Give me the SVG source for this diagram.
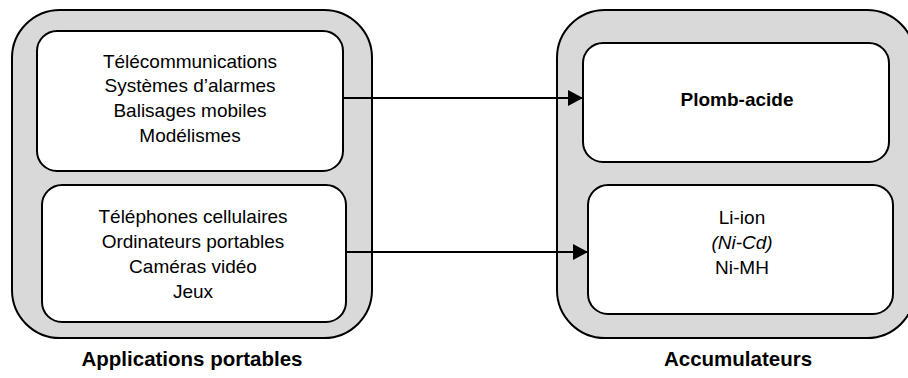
<svg xmlns="http://www.w3.org/2000/svg" width="908" height="378" viewBox="0 0 908 378">
<defs>
<style>
.outer{fill:#d9d9d9;stroke:#000;stroke-width:2}
.inner{fill:#fff;stroke:#000;stroke-width:2}
.t{font-family:"Liberation Sans",Arial,sans-serif;font-size:19px;text-anchor:middle;fill:#000}
.b{font-weight:bold}
.i{font-style:italic}
.conn{stroke:#000;stroke-width:2;fill:none}
</style>
<marker id="arr" markerWidth="16" markerHeight="16" refX="15" refY="8" orient="auto" markerUnits="userSpaceOnUse">
<path d="M0,0 L15,8 L0,16 Z" fill="#000"/>
</marker>
</defs>
<rect width="908" height="378" fill="#fff"/>
<g id="applications-portables">
<rect class="outer" x="12" y="10" width="360" height="328" rx="48" ry="48"/>
<text class="t b" x="192" y="366" style="font-size:20.5px">Applications portables</text>
</g>
<g id="accumulateurs">
<rect class="outer" x="557" y="10" width="358" height="328" rx="48" ry="48"/>
<text class="t b" x="738" y="366" style="font-size:20.5px">Accumulateurs</text>
</g>
<g id="app-group1">
<rect class="inner" x="37" y="31" width="306" height="140" rx="20" ry="20"/>
<text class="t" x="190" y="68">Télécommunications</text>
<text class="t" x="190" y="92">Systèmes d’alarmes</text>
<text class="t" x="190" y="117">Balisages mobiles</text>
<text class="t" x="190" y="142">Modélismes</text>
</g>
<g id="app-group2">
<rect class="inner" x="42" y="185" width="304" height="137" rx="20" ry="20"/>
<text class="t" x="193" y="223">Téléphones cellulaires</text>
<text class="t" x="193" y="248">Ordinateurs portables</text>
<text class="t" x="193" y="273">Caméras vidéo</text>
<text class="t" x="193" y="298">Jeux</text>
</g>
<g id="plomb-acide">
<rect class="inner" x="583" y="43" width="306" height="119" rx="20" ry="20"/>
<text class="t b" x="737" y="106">Plomb-acide</text>
</g>
<g id="li-ion">
<rect class="inner" x="588" y="185" width="305" height="129" rx="20" ry="20"/>
<text class="t" x="742" y="224">Li-ion</text>
<text class="t i" x="742" y="249">(Ni-Cd)</text>
<text class="t" x="742" y="274">Ni-MH</text>
</g>
<g id="connectors">
<line class="conn" x1="343" y1="98" x2="583" y2="98" marker-end="url(#arr)"/>
<line class="conn" x1="346" y1="252" x2="588" y2="252" marker-end="url(#arr)"/>
</g>
</svg>
